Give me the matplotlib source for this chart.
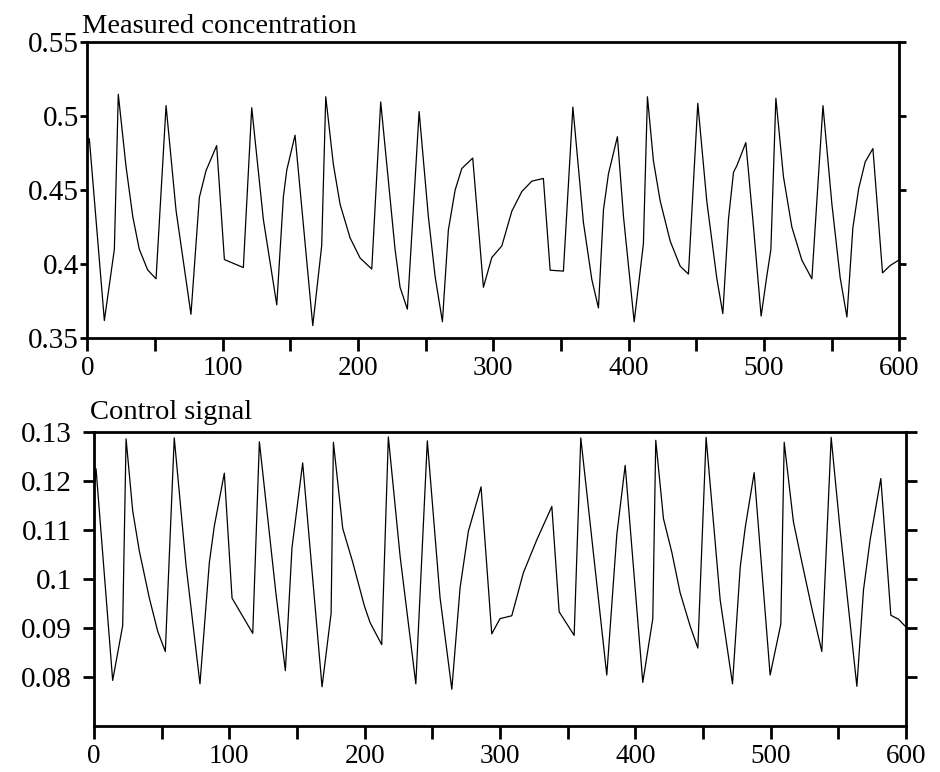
import matplotlib
matplotlib.use("Agg")
import matplotlib.pyplot as plt
from matplotlib.ticker import FixedLocator, FixedFormatter

plt.rcParams['font.family'] = ['Liberation Serif', 'DejaVu Serif']

# ---- data: measured concentration ----
t_conc = [0, 1.5, 12.6, 20.0, 22.9, 28.6, 33.6, 38.4, 44.6, 50.8, 58.2, 65.6, 76.6,
          82.8, 87.7, 95.6, 101.3, 115.3, 121.5, 130.1, 140.0, 144.9, 147.4, 153.5,
          166.6, 173.2, 176.2, 181.8, 186.8, 194.2, 201.6, 210.2, 216.8, 227.4, 231.1,
          236.5, 245.2, 252.0, 257.0, 262.4, 266.8, 271.8, 276.7, 284.8, 292.7, 298.9,
          306.3, 313.7, 321.1, 328.5, 337.0, 342.0, 351.8, 358.8, 366.6, 372.8, 377.7,
          381.4, 385.1, 391.7, 396.2, 404.1, 410.9, 413.9, 418.3, 423.3, 430.7, 438.1,
          444.2, 451.1, 457.8, 465.2, 469.6, 473.8, 477.5, 480.0, 486.6, 492.2, 497.9,
          502.1, 505.1, 508.8, 514.4, 520.6, 528.0, 535.4, 543.6, 550.2, 556.3, 561.3,
          565.7, 570.0, 574.8, 580.5, 587.6, 593.3, 598.2, 600]
conc = [0.480, 0.4847, 0.3618, 0.410, 0.5147, 0.466, 0.432, 0.410, 0.396, 0.390, 0.507,
        0.436, 0.366, 0.445, 0.463, 0.480, 0.403, 0.3976, 0.5056, 0.430, 0.3724, 0.4455,
        0.4635, 0.487, 0.3584, 0.4124, 0.513, 0.4674, 0.4403, 0.4176, 0.404, 0.3966,
        0.5095, 0.410, 0.3843, 0.3695, 0.503, 0.4322, 0.3916, 0.361, 0.423, 0.450,
        0.4645, 0.4716, 0.3843, 0.4044, 0.4122, 0.4357, 0.449, 0.456, 0.4578, 0.3958,
        0.3952, 0.506, 0.428, 0.3895, 0.3703, 0.4366, 0.461, 0.486, 0.432, 0.3609,
        0.4136, 0.513, 0.4698, 0.4427, 0.4155, 0.3985, 0.3932, 0.5086, 0.442, 0.390,
        0.3665, 0.4306, 0.462, 0.4665, 0.482, 0.4257, 0.3648, 0.3918, 0.4097, 0.512,
        0.459, 0.425, 0.4026, 0.390, 0.507, 0.4404, 0.3908, 0.3642, 0.4245, 0.451,
        0.469, 0.478, 0.394, 0.399, 0.4018, 0.403]

# ---- data: control signal ----
t_ctrl = [0, 1.5, 13.8, 21.2, 23.7, 28.6, 33.5, 40.9, 47.1, 52.7, 59.3, 68.0, 78.3,
          85.2, 88.9, 96.3, 102.0, 117.3, 122.2, 134.5, 141.4, 146.3, 154.2, 168.5,
          175.2, 176.9, 183.8, 191.2, 199.8, 204.0, 212.6, 217.5, 226.2, 237.8, 246.3,
          255.7, 264.4, 270.5, 276.6, 286.0, 293.9, 300.0, 308.7, 317.3, 327.2, 338.3,
          343.7, 354.8, 359.7, 378.9, 386.3, 392.5, 405.5, 412.9, 415.1, 420.8, 427.0,
          433.1, 440.5, 446.2, 452.3, 462.7, 471.8, 477.5, 481.2, 487.8, 499.6, 507.5,
          510.0, 516.8, 523.0, 530.5, 537.8, 544.7, 551.3, 563.7, 568.6, 573.5, 581.4,
          588.8, 594.4, 600]
ctrl = [0.1185, 0.1225, 0.0793, 0.0905, 0.1286, 0.1139, 0.1057, 0.0961, 0.0893, 0.0852,
        0.1288, 0.1028, 0.0786, 0.1033, 0.1108, 0.1216, 0.0961, 0.0889, 0.1280, 0.0969,
        0.0813, 0.1064, 0.1237, 0.0780, 0.0930, 0.1279, 0.1103, 0.1034, 0.0945, 0.0911,
        0.0866, 0.1290, 0.1046, 0.0786, 0.1282, 0.0962, 0.0775, 0.0982, 0.1097, 0.1188,
        0.0888, 0.0919, 0.0925, 0.1013, 0.1080, 0.1148, 0.0933, 0.0885, 0.1288, 0.0804,
        0.1090, 0.1232, 0.0789, 0.0919, 0.1283, 0.1123, 0.1054, 0.0972, 0.0904, 0.0859,
        0.1289, 0.0957, 0.0786, 0.1024, 0.1105, 0.1217, 0.0804, 0.0908, 0.1279, 0.1117,
        0.1035, 0.0939, 0.0852, 0.1289, 0.1101, 0.0781, 0.0978, 0.1080, 0.1205, 0.0926,
        0.0918, 0.0902]

x_major = [0, 100, 200, 300, 400, 500, 600]
x_labels = ['0', '100', '200', '300', '400', '500', '600']
x_minor = [50, 150, 250, 350, 450, 550]
conc_ticks = [0.35, 0.40, 0.45, 0.50, 0.55]
conc_labels = ['0.35', '0.4', '0.45', '0.5', '0.55']
ctrl_ticks = [0.08, 0.09, 0.10, 0.11, 0.12, 0.13]
ctrl_labels = ['0.08', '0.09', '0.1', '0.11', '0.12', '0.13']

W, H = 940, 772
fig = plt.figure(figsize=(W / 100, H / 100), dpi=100)
ax1 = fig.add_axes([87.3 / W, 1 - 338 / H, 812 / W, 296 / H])
ax2 = fig.add_axes([94 / W, 1 - 726 / H, 812 / W, 294 / H])


def style(ax, yticks, ylabels, ylim, title, title_x, title_y, ylen, ypad):
    ax.set_xlim(0, 600)
    ax.set_ylim(*ylim)
    ax.xaxis.set_major_locator(FixedLocator(x_major))
    ax.xaxis.set_major_formatter(FixedFormatter(x_labels))
    ax.xaxis.set_minor_locator(FixedLocator(x_minor))
    ax.yaxis.set_major_locator(FixedLocator(yticks))
    ax.yaxis.set_major_formatter(FixedFormatter(ylabels))
    for s in ax.spines.values():
        s.set_linewidth(2)
        s.set_color('black')
    ax.tick_params(axis='x', which='both', direction='out', length=9, width=2,
                   labelsize=19.5, pad=4)
    ax.tick_params(axis='y', which='both', direction='out', length=ylen, width=2,
                   labelsize=21, pad=ypad, right=True, labelright=False)
    ax.text(title_x, title_y, title, transform=ax.transAxes, fontsize=20.5,
            ha='left', va='baseline')


ax1.plot(t_conc, conc, color='black', linewidth=0.9)
style(ax1, conc_ticks, conc_labels, (0.35, 0.55), 'Measured concentration',
      -0.0065, 1.03, 5, 1)

ax2.plot(t_ctrl, ctrl, color='black', linewidth=0.9)
style(ax2, ctrl_ticks, ctrl_labels, (0.07, 0.13), 'Control signal',
      -0.005, 1.044, 8, 8)

fig.savefig('out.png', dpi=100)
